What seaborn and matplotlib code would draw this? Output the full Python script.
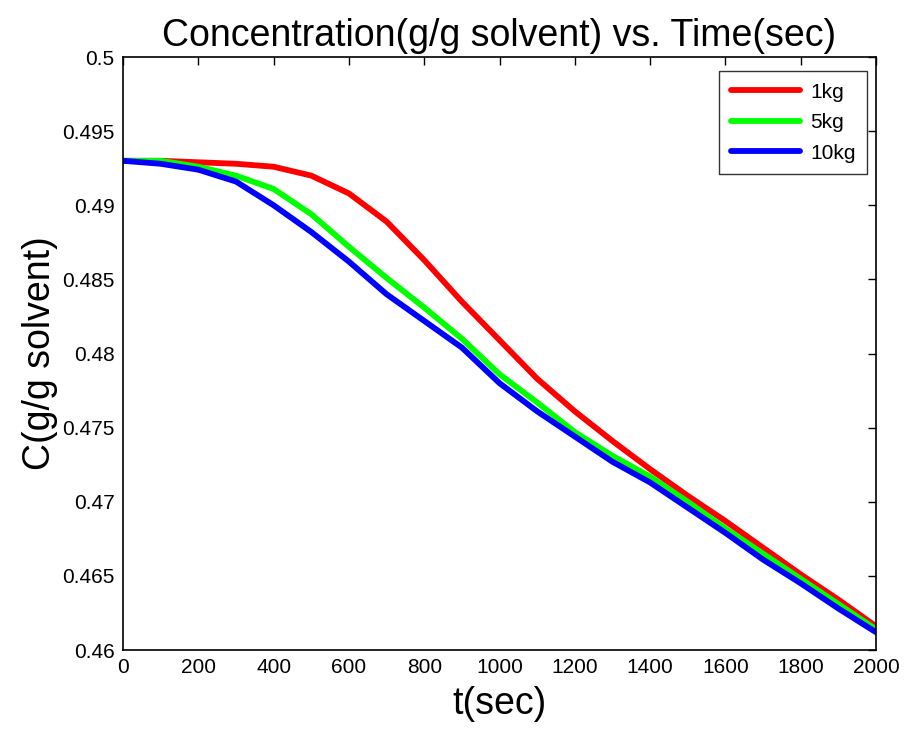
import matplotlib
matplotlib.use("Agg")
import matplotlib.pyplot as plt
import seaborn as sns
import pandas as pd
import numpy as np

t = [0, 100, 200, 300, 400, 500, 600, 700, 800, 900, 1000,
     1100, 1200, 1300, 1400, 1500, 1600, 1700, 1800, 1900, 2000]
c_1kg = [0.4930, 0.4930, 0.4929, 0.4928, 0.4926, 0.4920, 0.4908, 0.4889, 0.4863, 0.4835, 0.4809,
         0.4783, 0.4761, 0.4741, 0.4722, 0.4704, 0.4687, 0.4669, 0.4651, 0.4634, 0.4616]
c_5kg = [0.4930, 0.4930, 0.4926, 0.4920, 0.4911, 0.4894, 0.4872, 0.4851, 0.4831, 0.4810, 0.4786,
         0.4767, 0.4747, 0.4731, 0.4717, 0.4700, 0.4682, 0.4665, 0.4648, 0.4631, 0.4614]
c_10kg = [0.4930, 0.4928, 0.4924, 0.4916, 0.4900, 0.4882, 0.4862, 0.4840, 0.4822, 0.4804, 0.4780,
          0.4761, 0.4744, 0.4727, 0.4713, 0.4696, 0.4679, 0.4661, 0.4645, 0.4628, 0.4612]
series = ["1kg", "5kg", "10kg"]
colors = ["#ff0000", "#00ff00", "#0000ff"]
xticks = [0, 200, 400, 600, 800, 1000, 1200, 1400, 1600, 1800, 2000]
yticks = [0.46, 0.465, 0.47, 0.475, 0.48, 0.485, 0.49, 0.495, 0.5]
yticklabels = ["0.46", "0.465", "0.47", "0.475", "0.48", "0.485", "0.49", "0.495", "0.5"]

df = pd.DataFrame({
    "t": t * 3,
    "C": c_1kg + c_5kg + c_10kg,
    "mass": [series[0]] * len(t) + [series[1]] * len(t) + [series[2]] * len(t),
})

sns.set_style("white")
plt.rcParams["font.family"] = ["Liberation Sans", "DejaVu Sans"]
plt.rcParams["text.color"] = "black"
plt.rcParams["axes.labelcolor"] = "black"

fig = plt.figure(figsize=(9.06, 7.33), dpi=100)
ax = fig.add_axes([0.1358, 0.1132, 0.9669 - 0.1358, 0.9222 - 0.1132])

sns.lineplot(data=df, x="t", y="C", hue="mass", hue_order=series,
             palette=dict(zip(series, colors)), linewidth=4.2, ax=ax, sort=False)

ax.set_xlim(0, 2000)
ax.set_ylim(0.46, 0.5)
ax.set_xticks(xticks)
ax.set_xticklabels([str(v) for v in xticks])
ax.set_yticks(yticks)
ax.set_yticklabels(yticklabels)
ax.tick_params(direction="in", length=6, width=1, top=True, right=True,
               labelsize=15, colors="black", labelcolor="black", pad=6)
for s in ax.spines.values():
    s.set_visible(True)
    s.set_color("black")
    s.set_linewidth(1.2)

ax.set_title("Concentration(g/g solvent) vs. Time(sec)", fontsize=27, pad=8, color="black")
ax.set_xlabel("t(sec)", fontsize=27, labelpad=6, color="black")
ax.set_ylabel("C(g/g solvent)", fontsize=27, labelpad=3, color="black")

leg = ax.legend(loc="upper right", bbox_to_anchor=(0.988, 0.976), borderaxespad=0,
                fontsize=15, frameon=True, fancybox=False, edgecolor="black",
                handlelength=3.3, handletextpad=0.5, labelspacing=0.55,
                borderpad=0.55, title=None)
leg.get_frame().set_linewidth(1.0)
for line in leg.get_lines():
    line.set_linewidth(4.2)
for txt in leg.get_texts():
    txt.set_color("black")

fig.savefig("out.png", dpi=100)
